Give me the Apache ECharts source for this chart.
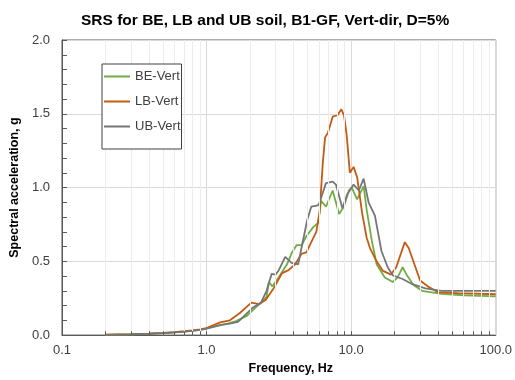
<!DOCTYPE html>
<html><head><meta charset="utf-8">
<script src="https://cdn.jsdelivr.net/npm/echarts@6/dist/echarts.min.js"></script>
<style>html,body{margin:0;padding:0;background:#fff}#c{width:515px;height:380px}</style>
</head><body><div id="c"></div><script>
const titleText = 'SRS for BE, LB and UB soil, B1-GF, Vert-dir, D=5%';
const xName = 'Frequency, Hz';
const yName = 'Spectral acceleration, g';
const seriesNames = ['BE-Vert', 'LB-Vert', 'UB-Vert'];

const freqBE = [0.2,0.3,0.4,0.5,0.6,0.7,0.8,0.9,1.0,1.2,1.4,1.6,1.9,2.2,2.45,2.6,2.7,2.85,3.15,3.6,3.9,4.2,4.55,4.9,5.45,5.9,6.2,6.7,7.45,8.25,8.9,9.65,10.1,11.0,12.2,12.8,13.9,15.0,17.1,19.4,20.9,22.7,24.5,27.0,30.9,42,60,100];
const accBE  = [0.002,0.005,0.009,0.013,0.018,0.024,0.03,0.036,0.045,0.063,0.078,0.095,0.13,0.19,0.23,0.26,0.36,0.33,0.39,0.48,0.56,0.61,0.61,0.67,0.73,0.76,0.91,0.87,0.98,0.82,0.87,0.98,1.0,0.92,1.01,0.85,0.64,0.48,0.39,0.36,0.39,0.46,0.40,0.34,0.30,0.28,0.27,0.262];

const freqLB = [0.2,0.3,0.4,0.5,0.6,0.7,0.8,0.9,1.0,1.24,1.45,1.7,2.04,2.32,2.57,2.92,3.33,3.69,4.1,4.53,4.9,5.3,5.74,6.05,6.36,6.6,6.9,7.45,8.05,8.55,8.93,9.3,9.8,10.4,11.0,11.9,12.8,13.5,15.0,16.6,18.9,20.5,23.5,25.0,30.0,34.0,39.8,54.6,100];
const accLB  = [0.003,0.006,0.01,0.015,0.02,0.026,0.032,0.039,0.048,0.086,0.10,0.15,0.22,0.21,0.24,0.32,0.42,0.44,0.48,0.55,0.56,0.63,0.70,0.83,1.16,1.34,1.37,1.48,1.49,1.53,1.49,1.36,1.10,1.14,1.07,0.83,0.66,0.59,0.50,0.435,0.41,0.46,0.63,0.59,0.37,0.33,0.29,0.285,0.277];

const freqUB = [0.2,0.3,0.4,0.5,0.6,0.7,0.8,0.9,1.0,1.24,1.45,1.65,2.08,2.38,2.6,2.82,3.0,3.16,3.5,3.87,4.3,4.97,5.3,5.9,6.05,6.7,7.45,7.85,8.7,9.4,10.4,11.3,12.2,13.2,14.6,16.2,17.9,19.4,22.7,26.5,32.6,42,100];
const accUB  = [0.002,0.005,0.009,0.013,0.018,0.023,0.029,0.035,0.043,0.07,0.078,0.09,0.185,0.22,0.30,0.415,0.41,0.44,0.53,0.49,0.48,0.78,0.87,0.88,0.90,1.03,1.04,1.02,0.86,0.955,1.02,0.98,1.06,0.90,0.81,0.57,0.46,0.405,0.38,0.345,0.317,0.30,0.30];

const minorFreqs = [0.2,0.3,0.4,0.5,0.6,0.7,0.8,0.9,2,3,4,5,6,7,8,9,20,30,40,50,60,70,80,90];
const tickFreqs = [0.2,0.3,0.4,0.5,0.6,0.7,0.8,0.9,1,2,3,4,5,6,7,8,9,10,20,30,40,50,60,70,80,90];

const colors = ['#70AD47', '#C55A11', '#767676'];
const font = 'Liberation Sans, Arial, sans-serif';

function pairs(f, v) { return f.map((x, i) => [x, v[i]]); }

const chart = echarts.init(document.getElementById('c'), null, {renderer: 'canvas'});
chart.setOption({
  animation: false,
  backgroundColor: '#fff',
  title: {
    text: titleText, left: 76, top: 8,
    textStyle: {fontFamily: font, fontSize: 15.5, fontWeight: 'bold', color: '#000'}
  },
  legend: {
    data: seriesNames, orient: 'vertical', left: 102, top: 64, z: 10,
    icon: 'rect', itemWidth: 26, itemHeight: 2, itemGap: 12,
    backgroundColor: '#fff',
    borderColor: '#404040', borderWidth: 1, padding: [6, 1, 16, 2],
    textStyle: {fontFamily: font, fontSize: 13, color: '#404040'}
  },
  grid: {left: 58, right: 14, top: 40, bottom: 37, show: true, borderColor: '#595959', borderWidth: 1},
  xAxis: {
    type: 'log', logBase: 10, min: 0.1, max: 100,
    name: xName, nameLocation: 'middle', nameGap: 22,
    nameTextStyle: {fontFamily: font, fontSize: 12.5, fontWeight: 'bold', color: '#000', padding: [0, 0, 0, 24]},
    axisLine: {lineStyle: {color: '#595959'}},
    axisTick: {show: false},
    axisLabel: {fontFamily: font, fontSize: 13, color: '#404040', margin: 9, formatter: v => Number(v).toFixed(1)},
    splitLine: {show: true, lineStyle: {color: '#d9d9d9', width: 1}}
  },
  yAxis: {
    type: 'value', min: 0, max: 2, interval: 0.5,
    name: yName, nameLocation: 'middle', nameGap: 35,
    nameTextStyle: {fontFamily: font, fontSize: 12.5, fontWeight: 'bold', color: '#000'},
    axisLine: {show: true, lineStyle: {color: '#595959'}},
    axisTick: {show: true, inside: true, length: 5, lineStyle: {color: '#595959'}},
    minorTick: {show: true, splitNumber: 5, length: 5, lineStyle: {color: '#595959'}},
    axisLabel: {fontFamily: font, fontSize: 13, color: '#404040', margin: 12, formatter: v => v.toFixed(1)},
    splitLine: {show: true, lineStyle: {color: '#d9d9d9', width: 1}}
  },
  series: [
    {
      name: 'grid-minor', type: 'line', data: [[0.1, 0]], symbol: 'none', silent: true, z: 1,
      lineStyle: {opacity: 0},
      markLine: {
        silent: true, symbol: ['none', 'none'], label: {show: false}, animation: false,
        lineStyle: {color: '#ececec', width: 1, type: 'solid'},
        data: minorFreqs.map(f => ({xAxis: f}))
      }
    },
    {
      name: 'x-ticks', type: 'line', data: [[0.1, 0]], symbol: 'none', silent: true, z: 3,
      lineStyle: {opacity: 0},
      markLine: {
        silent: true, symbol: ['none', 'none'], label: {show: false}, animation: false,
        lineStyle: {color: '#595959', width: 1, type: 'solid'},
        data: tickFreqs.map(f => [{coord: [f, 0]}, {coord: [f, 0.026]}])
      }
    },
    {name: seriesNames[0], type: 'line', data: pairs(freqBE, accBE), symbol: 'none', z: 2,
     lineStyle: {color: colors[0], width: 1.8}, itemStyle: {color: colors[0]}},
    {name: seriesNames[1], type: 'line', data: pairs(freqLB, accLB), symbol: 'none', z: 2,
     lineStyle: {color: colors[1], width: 1.8}, itemStyle: {color: colors[1]}},
    {name: seriesNames[2], type: 'line', data: pairs(freqUB, accUB), symbol: 'none', z: 2,
     lineStyle: {color: colors[2], width: 1.8}, itemStyle: {color: colors[2]}}
  ]
});
</script></body></html>
